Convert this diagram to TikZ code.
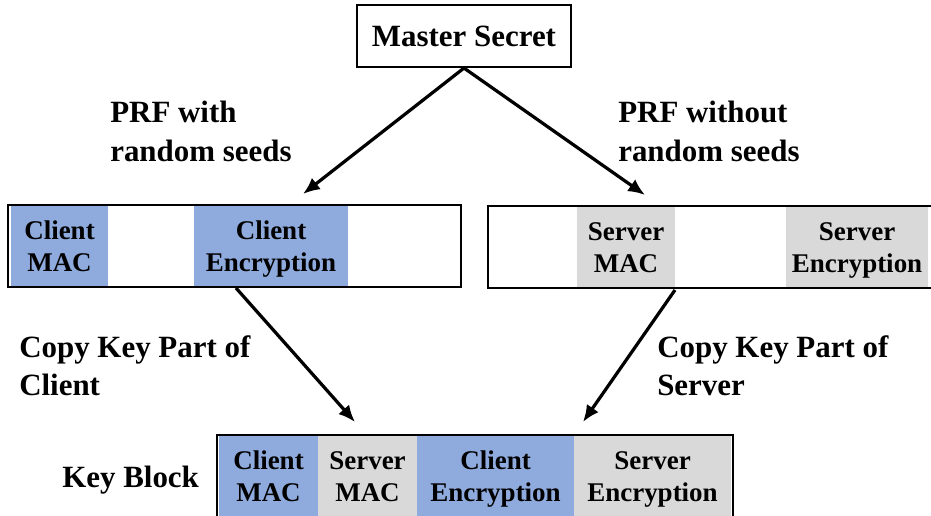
\documentclass[tikz,border=0pt]{standalone}
\usepackage{fontspec}
\setmainfont{Liberation Serif}
\usetikzlibrary{arrows.meta}

\definecolor{keyblue}{HTML}{8FAADC}
\definecolor{keygray}{HTML}{D9D9D9}

\newcommand{\lblfont}{\fontsize{22}{27.7}\selectfont\bfseries}
\newcommand{\cellfont}{\fontsize{19.2}{22.5}\selectfont\bfseries}

\begin{document}
\begin{tikzpicture}[
        frame/.style={
            rectangle,
            draw,
            line width=2.1pt,
            inner sep=0pt,
            minimum height=2.05cm
        },
        cell/.style={
            rectangle,
            align=center,
            inner sep=0pt,
            text height=36pt,
            text depth=0pt,
            minimum height=1.99cm,
            font=\cellfont
        },
        annot/.style={
            align=left,
            inner sep=0pt,
            anchor=north west,
            font=\lblfont
        },
        arrow/.style={
            -{Latex[length=0.42cm,width=0.36cm]},
            line width=2.3pt
        }
    ]

        \useasboundingbox (0,0) rectangle (23.275,12.875);

        % master secret
        \node[draw, line width=1.5pt, minimum width=5.35cm, minimum height=1.55cm, font=\lblfont] (master) at (11.6,11.975) {Master Secret};

        % client key block
        \node[cell, fill=keyblue, minimum width=2.425cm] (cmac) at (1.4875,6.725) {Client\\MAC};
        \node[cell, fill=keyblue, minimum width=3.85cm] (cenc) at (6.775,6.725) {Client\\Encryption};
        \node[frame, minimum width=11.325cm] (cbar) at (5.8625,6.725) {};

        % server key block
        \node[cell, fill=keygray, minimum width=2.45cm] (smac) at (15.65,6.7) {Server\\MAC};
        \node[cell, fill=keygray, minimum width=3.55cm] (senc) at (21.425,6.7) {Server\\Encryption};
        \node[frame, minimum width=11.4cm] (sbar) at (17.9,6.7) {};

        % final key block
        \node[cell, fill=keyblue, minimum width=2.475cm] (kcmac) at (6.7125,0.975) {Client\\MAC};
        \node[cell, fill=keygray, minimum width=2.475cm] (ksmac) at (9.1875,0.975) {Server\\MAC};
        \node[cell, fill=keyblue, minimum width=3.925cm] (kcenc) at (12.3875,0.975) {Client\\Encryption};
        \node[cell, fill=keygray, minimum width=3.925cm] (ksenc) at (16.3125,0.975) {Server\\Encryption};
        \node[frame, minimum width=12.9cm] (kbar) at (11.875,0.975) {};

        \node[inner sep=0pt, anchor=base west, font=\lblfont] (kblabel) at (1.55,0.7) {Key Block};

        % labels
        \node[annot] (prfwith) at (2.75,10.35) {PRF with\\random seeds};
        \node[annot] (prfwithout) at (15.45,10.35) {PRF without\\random seeds};
        \node[annot] (copyc) at (0.475,4.5) {Copy Key Part of\\Client};
        \node[annot] (copys) at (16.425,4.5) {Copy Key Part of\\Server};

        % arrow ends
        \coordinate (cin) at (7.575,8.025);
        \coordinate (sin) at (16.125,8.0);
        \coordinate (cout) at (5.9,5.675);
        \coordinate (sout) at (16.875,5.625);
        \coordinate (kin1) at (8.875,2.325);
        \coordinate (kin2) at (14.575,2.325);

        \draw[arrow] (master.south) -- (cin);
        \draw[arrow] (master.south) -- (sin);
        \draw[arrow] (cout) -- (kin1);
        \draw[arrow] (sout) -- (kin2);

    \end{tikzpicture}
\end{document}
